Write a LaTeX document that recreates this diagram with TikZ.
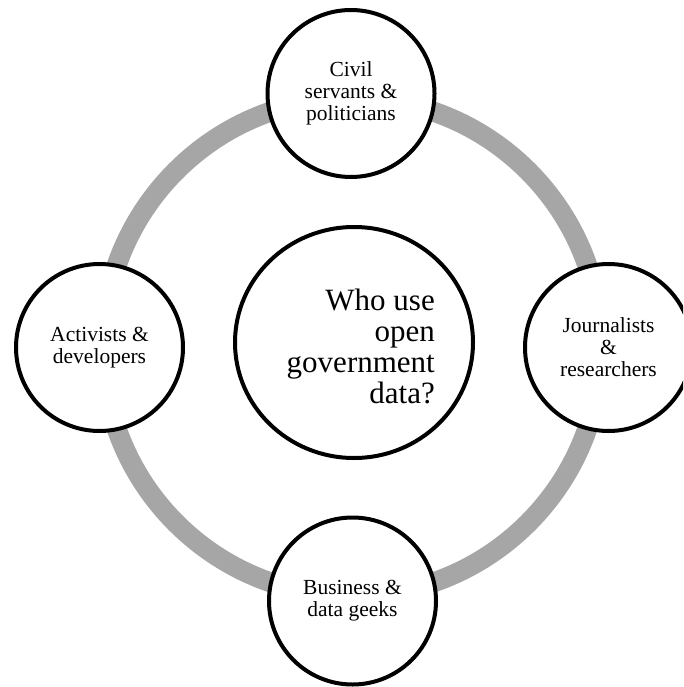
\documentclass[tikz,border=0pt]{standalone}
\usepackage{fontspec}
\setmainfont{Liberation Serif}
\usetikzlibrary{shapes.geometric}
\definecolor{ringgray}{RGB}{166,166,166}
\tikzset{
  ring/.style={draw=ringgray, line width=20pt},
  actor/.style={circle, draw=black, fill=white, line width=4pt, minimum size=167pt, inner sep=0pt,
    align=center, font=\fontsize{21.5}{22}\selectfont},
  hub/.style={ellipse, draw=black, fill=white, line width=4pt, minimum width=238pt, minimum height=231pt, inner sep=0pt},
  hubtext/.style={align=right, inner sep=0pt, font=\fontsize{31}{31}\selectfont}
}
\begin{document}
\begin{tikzpicture}[x=1pt,y=-1pt]
\useasboundingbox (0,0) rectangle (683,687);
\clip (0,0) rectangle (683,687);
\coordinate (ringc) at (352,347);
\draw[ring] (ringc) circle[radius=249];
\node[hub] (hub) at (354,342.5) {};
\node[hubtext, anchor=east] (hubt) at (435,346) {Who use\\open\\government\\data?};
\node[actor] (civil) at (351,93.5) {Civil\\servants \&\\politicians};
\node[actor] (activ) at (99.5,347.5) {Activists \&\\developers};
\node[actor] (journ) at (608.5,347.5) {Journalists\\\&\\researchers};
\node[actor] (bus) at (352.5,601) {Business \&\\data geeks};
\end{tikzpicture}
\end{document}
